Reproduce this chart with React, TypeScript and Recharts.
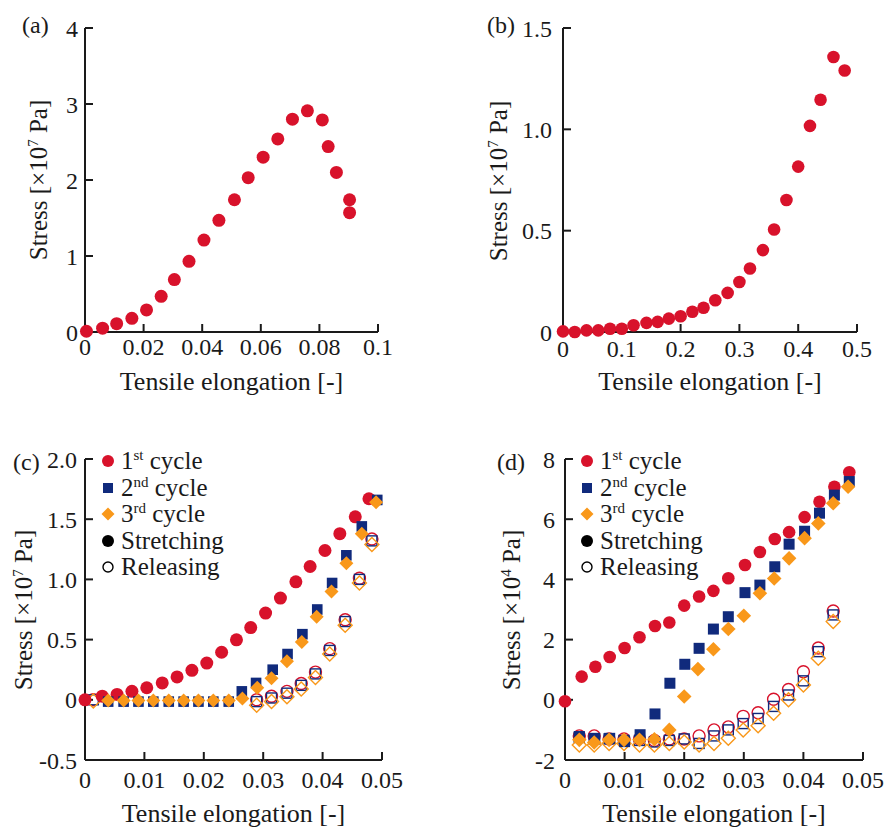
import React from 'react'
import { ScatterChart, Scatter, XAxis, YAxis } from 'recharts'

const FONT = '"Liberation Serif", "Times New Roman", serif'
const INK = '#1a1a1a'
const RED = '#D8122B'
const NAVY = '#102A7C'
const ORANGE = '#F9981A'

// (a) single tensile test
const aX = [0.0005, 0.006, 0.0108, 0.016, 0.021, 0.026, 0.0305, 0.0355, 0.0406, 0.0457, 0.051, 0.0557, 0.0608, 0.0658, 0.0708, 0.0759, 0.081, 0.083, 0.0858, 0.0903, 0.0903]
const aY = [0.01, 0.05, 0.11, 0.18, 0.29, 0.47, 0.69, 0.93, 1.21, 1.47, 1.74, 2.03, 2.3, 2.54, 2.8, 2.91, 2.79, 2.44, 2.1, 1.74, 1.57]

// (b) single tensile test
const bX = [0, 0.02, 0.04, 0.06, 0.08, 0.1, 0.12, 0.142, 0.161, 0.18, 0.2, 0.22, 0.239, 0.259, 0.28, 0.3, 0.318, 0.34, 0.359, 0.38, 0.4, 0.42, 0.438, 0.46, 0.479]
const bY = [0.003, 0, 0.008, 0.008, 0.016, 0.016, 0.033, 0.045, 0.05, 0.066, 0.078, 0.1, 0.12, 0.157, 0.193, 0.247, 0.313, 0.404, 0.506, 0.651, 0.816, 1.017, 1.146, 1.357, 1.29]

// (c) cyclic test, stretching
const c1X = [0, 0.0029, 0.0054, 0.0079, 0.0104, 0.013, 0.0155, 0.018, 0.0205, 0.023, 0.0255, 0.0279, 0.0304, 0.0329, 0.0355, 0.0379, 0.0404, 0.0429, 0.0455, 0.0478]
const c1Y = [0, 0.03, 0.045, 0.07, 0.1, 0.14, 0.19, 0.245, 0.305, 0.395, 0.498, 0.6, 0.72, 0.845, 0.98, 1.107, 1.24, 1.38, 1.52, 1.67]
const c2X = [0.0039, 0.0065, 0.009, 0.0115, 0.0141, 0.0166, 0.0191, 0.0216, 0.0242, 0.0264, 0.0288, 0.0316, 0.0341, 0.0366, 0.0391, 0.0416, 0.044, 0.0466, 0.0492]
const c2Y = [-0.015, -0.015, -0.015, -0.015, -0.015, -0.015, -0.015, -0.015, -0.015, 0.07, 0.14, 0.25, 0.38, 0.545, 0.75, 0.97, 1.2, 1.44, 1.66]
const c3X = [0.0039, 0.0065, 0.009, 0.0115, 0.0141, 0.0166, 0.0191, 0.0216, 0.0242, 0.0265, 0.029, 0.0314, 0.034, 0.0365, 0.039, 0.0415, 0.044, 0.0466, 0.049]
const c3Y = [-0.005, -0.005, -0.005, -0.005, -0.005, -0.005, -0.005, -0.005, -0.005, 0.01, 0.1, 0.18, 0.32, 0.48, 0.69, 0.9, 1.135, 1.38, 1.64]
// (c) releasing
const cRelX = [0.0014, 0.0289, 0.0314, 0.034, 0.0364, 0.0388, 0.0412, 0.0438, 0.0462, 0.0483]
const c1R = [0, 0, 0.03, 0.07, 0.135, 0.23, 0.425, 0.665, 1.01, 1.335]
const c2R = [0, -0.015, 0.015, 0.055, 0.12, 0.215, 0.41, 0.65, 1.0, 1.32]
const c3R = [-0.01, -0.045, -0.015, 0.025, 0.09, 0.185, 0.38, 0.62, 0.97, 1.29]

// (d) cyclic test, stretching
const d1X = [0, 0.0028, 0.0051, 0.0075, 0.01, 0.0125, 0.0151, 0.0175, 0.02, 0.0225, 0.0249, 0.0274, 0.0302, 0.0327, 0.0352, 0.0376, 0.0402, 0.0427, 0.0452, 0.0477]
const d1Y = [-0.05, 0.77, 1.1, 1.42, 1.72, 2.08, 2.45, 2.57, 3.13, 3.43, 3.62, 4.04, 4.48, 4.91, 5.34, 5.57, 6.07, 6.58, 7.08, 7.56]
const d2X = [0.0024, 0.005, 0.0075, 0.01, 0.0126, 0.0151, 0.0176, 0.0201, 0.0225, 0.0249, 0.0274, 0.0302, 0.0327, 0.0352, 0.0376, 0.0402, 0.0427, 0.0452, 0.0477]
const d2Y = [-1.22, -1.28, -1.28, -1.39, -1.16, -0.47, 0.55, 1.18, 1.71, 2.35, 2.76, 3.56, 3.81, 4.42, 5.17, 5.6, 6.2, 6.8, 7.25]
const d3X = [0.0024, 0.0049, 0.0074, 0.0099, 0.0125, 0.015, 0.0175, 0.02, 0.0223, 0.0249, 0.0274, 0.03, 0.0327, 0.0351, 0.0376, 0.0402, 0.0425, 0.045, 0.0475]
const d3Y = [-1.33, -1.42, -1.33, -1.33, -1.33, -1.31, -1.0, 0.11, 1.02, 1.68, 2.35, 2.79, 3.54, 4.03, 4.7, 5.37, 5.86, 6.53, 7.08]
// (d) releasing
const dRelX = [0.0024, 0.0049, 0.0074, 0.0099, 0.0125, 0.015, 0.0175, 0.02, 0.0225, 0.025, 0.0274, 0.0299, 0.0324, 0.035, 0.0375, 0.04, 0.0425, 0.045]
const d1R = [-1.2, -1.2, -1.3, -1.3, -1.3, -1.35, -1.3, -1.3, -1.2, -1.0, -0.9, -0.55, -0.43, 0.02, 0.34, 0.93, 1.72, 2.95]
const d2R = [-1.25, -1.3, -1.3, -1.35, -1.35, -1.4, -1.35, -1.3, -1.45, -1.2, -1.0, -0.79, -0.62, -0.22, 0.16, 0.63, 1.6, 2.82]
const d3R = [-1.5, -1.5, -1.45, -1.45, -1.5, -1.5, -1.45, -1.4, -1.5, -1.45, -1.28, -1.0, -0.86, -0.45, 0, 0.49, 1.38, 2.6]

// axis ticks
const aXTicks = [0, 0.02, 0.04, 0.06, 0.08, 0.1]
const aYTicks = [0, 1, 2, 3, 4]
const bXTicks = [0, 0.1, 0.2, 0.3, 0.4, 0.5]
const bYTicks = [0, 0.5, 1, 1.5]
const cdXTicks = [0, 0.01, 0.02, 0.03, 0.04, 0.05]
const cYTicks = [-0.5, 0, 0.5, 1, 1.5, 2]
const dYTicks = [-2, 0, 2, 4, 6, 8]

const legendRows = [
  { num: '1', sup: 'st', rest: ' cycle', kind: 'circle', color: RED, open: false },
  { num: '2', sup: 'nd', rest: ' cycle', kind: 'square', color: NAVY, open: false },
  { num: '3', sup: 'rd', rest: ' cycle', kind: 'diamond', color: ORANGE, open: false },
  { num: '', sup: '', rest: 'Stretching', kind: 'circle', color: '#000', open: false },
  { num: '', sup: '', rest: 'Releasing', kind: 'circle', color: '#000', open: true },
]

const zip = (xs: number[], ys: number[]) => xs.map((x, i) => ({ x, y: ys[i] }))

type Kind = 'circle' | 'square' | 'diamond'

function Marker({ cx, cy, kind, color, open, s }: { cx: number; cy: number; kind: Kind; color: string; open: boolean; s: number }) {
  const fill = open ? 'none' : color
  const stroke = open ? color : 'none'
  const sw = open ? 1.4 : 0
  if (kind === 'square') {
    return <rect x={cx - s} y={cy - s} width={2 * s} height={2 * s} fill={fill} stroke={stroke} strokeWidth={sw} />
  }
  if (kind === 'diamond') {
    return <path d={`M${cx},${cy - s}L${cx + s},${cy}L${cx},${cy + s}L${cx - s},${cy}Z`} fill={fill} stroke={stroke} strokeWidth={sw} />
  }
  return <circle cx={cx} cy={cy} r={s} fill={fill} stroke={stroke} strokeWidth={sw} />
}

type Series = { data: { x: number; y: number }[]; kind: Kind; color: string; open: boolean; s: number }

const fmtX = (v: number) => (v === 0 ? '0' : String(v))
const fmtInt = (v: number) => String(v)
const fmt1 = (v: number) => (v === 0 ? '0' : v.toFixed(1))

function Panel(p: {
  left: number; top: number; width: number; height: number
  mTop: number; mRight: number; yWidth: number; xHeight: number
  xDomain: [number, number]; xTicks: number[]; yDomain: [number, number]; yTicks: number[]
  yFmt: (v: number) => string; xTickMargin: number; yTickMargin: number; titleOffset: number
  series: Series[]
}) {
  const tickStyle = { fill: INK, fontSize: 24, fontFamily: FONT }
  const line = { stroke: INK, strokeWidth: 2 }
  return (
    <div style={{ position: 'absolute', left: p.left, top: p.top }}>
      <ScatterChart width={p.width} height={p.height} margin={{ top: p.mTop, right: p.mRight, bottom: 0, left: 0 }}>
        <XAxis
          type="number" dataKey="x" domain={p.xDomain} ticks={p.xTicks} interval={0}
          tickFormatter={fmtX} tick={tickStyle} axisLine={line} tickLine={line}
          tickSize={-8} tickMargin={p.xTickMargin} height={p.xHeight}
          label={{ value: 'Tensile elongation [-]', position: 'insideBottom', offset: p.titleOffset, style: { fill: INK, fontSize: 26, fontFamily: FONT } }}
        />
        <YAxis
          type="number" dataKey="y" domain={p.yDomain} ticks={p.yTicks} interval={0}
          tickFormatter={p.yFmt} tick={tickStyle} axisLine={line} tickLine={line}
          tickSize={-8} tickMargin={p.yTickMargin} width={p.yWidth}
        />
        {p.series.map((s, i) => (
          <Scatter
            key={i}
            data={s.data}
            isAnimationActive={false}
            shape={(props: any) => <Marker cx={props.cx} cy={props.cy} kind={s.kind} color={s.color} open={s.open} s={s.s} />}
          />
        ))}
      </ScatterChart>
    </div>
  )
}

function YTitle({ cx, cy, exp }: { cx: number; cy: number; exp: string }) {
  return (
    <div style={{ position: 'absolute', left: cx, top: cy, transform: 'translate(-50%, -50%) rotate(-90deg)', whiteSpace: 'nowrap', fontSize: 25, lineHeight: '26px', fontFamily: FONT, color: INK }}>
      Stress [×10<span style={{ fontSize: 15, position: 'relative', top: -9 }}>{exp}</span> Pa]
    </div>
  )
}

function Tag({ x, cy, text }: { x: number; cy: number; text: string }) {
  return (
    <div style={{ position: 'absolute', left: x, top: cy - 13, fontSize: 24, lineHeight: '26px', fontFamily: FONT, color: INK }}>{text}</div>
  )
}

function LegendBox({ left, top }: { left: number; top: number }) {
  return (
    <div style={{ position: 'absolute', left, top, fontFamily: FONT, fontSize: 25, color: INK }}>
      {legendRows.map((r, i) => (
        <div key={i} style={{ display: 'flex', alignItems: 'center', height: 26.5, whiteSpace: 'nowrap' }}>
          <svg width={14} height={14} style={{ marginRight: 6 }}>
            <Marker cx={7} cy={7} kind={r.kind as Kind} color={r.color} open={r.open} s={r.open ? 5 : r.kind === 'square' ? 5 : r.kind === 'diamond' ? 6.5 : 6} />
          </svg>
          <span>
            {r.num}
            {r.sup && <span style={{ fontSize: 15, position: 'relative', top: -9 }}>{r.sup}</span>}
            {r.rest}
          </span>
        </div>
      ))}
    </div>
  )
}

export default function App() {
  const cSeries: Series[] = [
    { data: zip(cRelX, c1R), kind: 'circle', color: RED, open: true, s: 6 },
    { data: zip(cRelX, c2R), kind: 'square', color: NAVY, open: true, s: 5 },
    { data: zip(cRelX, c3R), kind: 'diamond', color: ORANGE, open: true, s: 7 },
    { data: zip(c1X, c1Y), kind: 'circle', color: RED, open: false, s: 6.5 },
    { data: zip(c2X, c2Y), kind: 'square', color: NAVY, open: false, s: 5.3 },
    { data: zip(c3X, c3Y), kind: 'diamond', color: ORANGE, open: false, s: 7 },
  ]
  const dSeries: Series[] = [
    { data: zip(dRelX, d1R), kind: 'circle', color: RED, open: true, s: 6 },
    { data: zip(dRelX, d2R), kind: 'square', color: NAVY, open: true, s: 5 },
    { data: zip(dRelX, d3R), kind: 'diamond', color: ORANGE, open: true, s: 7 },
    { data: zip(d1X, d1Y), kind: 'circle', color: RED, open: false, s: 6.3 },
    { data: zip(d2X, d2Y), kind: 'square', color: NAVY, open: false, s: 5.5 },
    { data: zip(d3X, d3Y), kind: 'diamond', color: ORANGE, open: false, s: 7.3 },
  ]
  return (
    <div style={{ position: 'absolute', left: 0, top: 0, width: 887, height: 828, background: '#fff', overflow: 'hidden' }}>
      <Panel
        left={0} top={0} width={440} height={410} mTop={28} mRight={62} yWidth={85} xHeight={78}
        xDomain={[0, 0.1]} xTicks={aXTicks} yDomain={[0, 4]} yTicks={aYTicks} yFmt={fmtInt}
        xTickMargin={14} yTickMargin={15} titleOffset={20}
        series={[{ data: zip(aX, aY), kind: 'circle', color: RED, open: false, s: 6.5 }]}
      />
      <Panel
        left={440} top={0} width={447} height={410} mTop={28} mRight={30} yWidth={123} xHeight={78}
        xDomain={[0, 0.5]} xTicks={bXTicks} yDomain={[0, 1.5]} yTicks={bYTicks} yFmt={fmt1}
        xTickMargin={16} yTickMargin={19} titleOffset={20}
        series={[{ data: zip(bX, bY), kind: 'circle', color: RED, open: false, s: 6.3 }]}
      />
      <Panel
        left={0} top={414} width={440} height={414} mTop={45} mRight={58} yWidth={85} xHeight={68}
        xDomain={[0, 0.05]} xTicks={cdXTicks} yDomain={[-0.5, 2]} yTicks={cYTicks} yFmt={fmt1}
        xTickMargin={19} yTickMargin={16} titleOffset={6}
        series={cSeries}
      />
      <Panel
        left={440} top={414} width={447} height={414} mTop={45} mRight={24} yWidth={125} xHeight={68}
        xDomain={[0, 0.05]} xTicks={cdXTicks} yDomain={[-2, 8]} yTicks={dYTicks} yFmt={fmtInt}
        xTickMargin={19} yTickMargin={18} titleOffset={6}
        series={dSeries}
      />
      <YTitle cx={40} cy={180} exp="7" />
      <YTitle cx={500} cy={181} exp="7" />
      <YTitle cx={25} cy={610} exp="7" />
      <YTitle cx={513} cy={610} exp="4" />
      <Tag x={22} cy={25} text="(a)" />
      <Tag x={487} cy={25} text="(b)" />
      <Tag x={13} cy={462} text="(c)" />
      <Tag x={497} cy={462} text="(d)" />
      <LegendBox left={101} top={447.75} />
      <LegendBox left={580} top={447.75} />
    </div>
  )
}
